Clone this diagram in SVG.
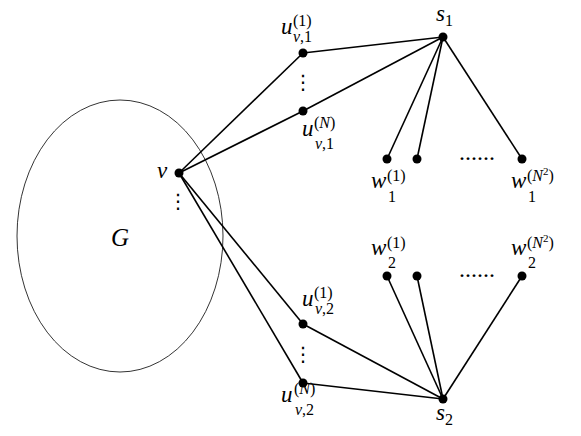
<svg xmlns="http://www.w3.org/2000/svg" width="581" height="436" viewBox="0 0 581 436">
<style>
.e{stroke:#000;stroke-width:1.6;fill:none}
.d{fill:#000}
.m{font-family:"Liberation Serif","Times New Roman","DejaVu Serif",serif;font-style:italic;font-size:23px}
.s{font-family:"Liberation Serif","Times New Roman","DejaVu Serif",serif;font-style:normal;font-size:16px}
.si{font-family:"Liberation Serif","Times New Roman","DejaVu Serif",serif;font-style:italic;font-size:16px}
.dots{font-family:"DejaVu Sans",sans-serif;font-size:20px}
.hd{font-family:"Liberation Serif","Times New Roman",serif;font-size:24px}
</style>
<rect width="581" height="436" fill="#fff"/>
<g id="G">
<ellipse cx="120" cy="236" rx="103" ry="136" fill="none" stroke="#000" stroke-width="0.8"/>
<text class="m" x="111" y="246" style="font-size:25px">G</text>
</g>
<g id="edges">
<line class="e" x1="179" y1="173" x2="303" y2="53"/>
<line class="e" x1="179" y1="173" x2="303" y2="111"/>
<line class="e" x1="179" y1="173" x2="303" y2="324"/>
<line class="e" x1="179" y1="173" x2="303" y2="383"/>
<line class="e" x1="303" y1="53" x2="443" y2="37"/>
<line class="e" x1="303" y1="111" x2="443" y2="37"/>
<line class="e" x1="443" y1="37" x2="387" y2="159"/>
<line class="e" x1="443" y1="37" x2="417" y2="159"/>
<line class="e" x1="443" y1="37" x2="522" y2="159"/>
<line class="e" x1="303" y1="324" x2="443" y2="399"/>
<line class="e" x1="303" y1="383" x2="443" y2="399"/>
<line class="e" x1="443" y1="399" x2="387" y2="276"/>
<line class="e" x1="443" y1="399" x2="417" y2="276"/>
<line class="e" x1="443" y1="399" x2="522" y2="276"/>
</g>
<g id="v">
<circle class="d" cx="179" cy="173" r="4.5"/>
<text class="m" x="157" y="178">v</text>
<text class="dots" x="168" y="208">⋮</text>
</g>
<g id="u_v1_1">
<circle class="d" cx="303" cy="53" r="4.5"/>
<text class="m" x="281" y="34">u</text>
<text class="s" x="293" y="26">(1)</text>
<text class="si" x="293" y="42">v<tspan class="s">,1</tspan></text>
</g>
<g id="udots1"><text class="dots" x="293" y="89">⋮</text></g>
<g id="u_v1_N">
<circle class="d" cx="303" cy="111" r="4.5"/>
<text class="m" x="302" y="136">u</text>
<text class="s" x="314" y="128">(<tspan class="si">N</tspan>)</text>
<text class="si" x="315" y="149">v<tspan class="s">,1</tspan></text>
</g>
<g id="u_v2_1">
<circle class="d" cx="303" cy="324" r="4.5"/>
<text class="m" x="302" y="306">u</text>
<text class="s" x="314" y="298">(1)</text>
<text class="si" x="315" y="314">v<tspan class="s">,2</tspan></text>
</g>
<g id="udots2"><text class="dots" x="293" y="361">⋮</text></g>
<g id="u_v2_N">
<circle class="d" cx="303" cy="383" r="4.5"/>
<text class="m" x="281" y="402">u</text>
<text class="s" x="294" y="394">(<tspan class="si">N</tspan>)</text>
<text class="si" x="295" y="415">v<tspan class="s">,2</tspan></text>
</g>
<g id="s1">
<circle class="d" cx="443" cy="37" r="4.5"/>
<text class="m" x="436" y="21">s</text>
<text class="s" x="445" y="26">1</text>
</g>
<g id="s2">
<circle class="d" cx="443" cy="399" r="4.5"/>
<text class="m" x="436" y="420">s</text>
<text class="s" x="445" y="425">2</text>
</g>
<g id="w1_1">
<circle class="d" cx="387" cy="159" r="4.5"/>
<text class="m" x="371" y="188">w</text>
<text class="s" x="387" y="181">(1)</text>
<text class="s" x="388" y="202">1</text>
</g>
<g id="w1_2"><circle class="d" cx="417" cy="159" r="4.5"/></g>
<g id="w1_dots"><text class="hd" x="459" y="160">......</text></g>
<g id="w1_N2">
<circle class="d" cx="522" cy="159" r="4.5"/>
<text class="m" x="511" y="188">w</text>
<text class="s" x="527" y="181">(<tspan class="si">N</tspan><tspan style="font-size:11px" dy="-6">2</tspan><tspan dy="6">)</tspan></text>
<text class="s" x="528" y="202">1</text>
</g>
<g id="w2_1">
<circle class="d" cx="387" cy="276" r="4.5"/>
<text class="m" x="371" y="255">w</text>
<text class="s" x="387" y="248">(1)</text>
<text class="s" x="388" y="268">2</text>
</g>
<g id="w2_2"><circle class="d" cx="417" cy="276" r="4.5"/></g>
<g id="w2_dots"><text class="hd" x="459" y="277">......</text></g>
<g id="w2_N2">
<circle class="d" cx="522" cy="276" r="4.5"/>
<text class="m" x="511" y="255">w</text>
<text class="s" x="527" y="248">(<tspan class="si">N</tspan><tspan style="font-size:11px" dy="-6">2</tspan><tspan dy="6">)</tspan></text>
<text class="s" x="528" y="268">2</text>
</g>
</svg>
